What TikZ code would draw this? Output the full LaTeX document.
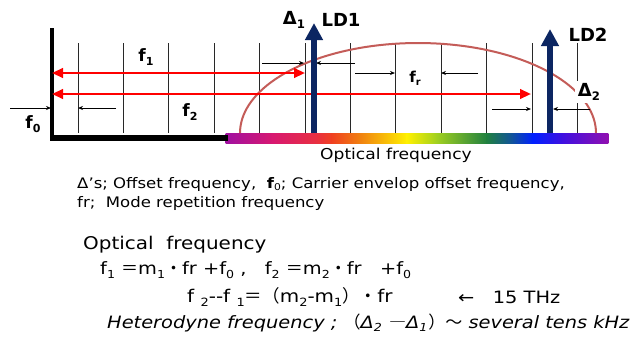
\documentclass[tikz,border=0pt]{standalone}
\usepackage{fontspec}
\usepackage{graphicx}
\setmainfont{DejaVu Sans}
\newfontfamily\wide[FakeStretch=1.14]{DejaVu Sans}
\newfontfamily\cjk{Noto Sans CJK JP}
\usetikzlibrary{arrows.meta}
\definecolor{navyc}{RGB}{12,38,98}
\definecolor{curvec}{RGB}{196,92,88}
\definecolor{gridc}{RGB}{40,40,40}
\definecolor{sA}{RGB}{160,16,160}
\definecolor{sB}{RGB}{216,24,112}
\definecolor{sC}{RGB}{232,48,64}
\definecolor{sD}{RGB}{240,64,32}
\definecolor{sE}{RGB}{240,128,16}
\definecolor{sF}{RGB}{255,240,0}
\definecolor{sG}{RGB}{160,208,32}
\definecolor{sH}{RGB}{32,128,64}
\definecolor{sI}{RGB}{16,80,160}
\definecolor{sJ}{RGB}{0,32,255}
\definecolor{sK}{RGB}{64,16,224}
\definecolor{sL}{RGB}{144,16,176}
\newcommand\lo[1]{\raisebox{-0.35ex}{\scalebox{0.65}{#1}}}
\newcommand\fs[1]{\fontsize{#1}{#1}\selectfont}
\tikzset{
  gridline/.style={draw=gridc, line width=0.9pt},
  redarrow/.style={draw=red, line width=2.4pt, {Triangle[length=11pt,width=9.5pt]}-{Triangle[length=11pt,width=9.5pt]}},
  smallarrow/.style={draw=black, line width=0.8pt, -{Stealth[length=5pt,width=4pt]}},
  bluearrow/.style={draw=navyc, line width=6pt, -{Triangle[length=17pt,width=17pt]}},
  biglabel/.style={font=\fs{18}\bfseries, inner sep=1pt},
  txt/.style={anchor=west, inner sep=0pt},
}
\begin{document}
\begin{tikzpicture}[x=1pt,y=-1pt]
\useasboundingbox[fill=white] (0,0) rectangle (630,341);
% grid
\foreach \x in {78,123.4,168.8,214.2,259.6,305,350.4,395.8,441.2,486.6,532,577.4}
  \draw[gridline] (\x,43) -- (\x,133);
% spectrum
\foreach \xa/\ca/\xb/\cb in {226/sA/273/sB,273/sB/317/sC,317/sC/332/sD,332/sD/360/sE,360/sE/407/sF,407/sF/437/sG,437/sG/487/sH,487/sH/513/sI,513/sI/533/sJ,533/sJ/563/sK,563/sK/608/sL}
  \shade[left color=\ca, right color=\cb] (\xa-0.3,133) rectangle (\xb+0.3,143);
% axes
\draw[line width=4pt] (52,28) -- (52,141);
\fill (50,135) rectangle (228,141);
% curve
\draw[curvec, line width=2pt] plot[domain=180:0, samples=80] ({418+178*cos(\x)}, {133-90*sin(\x)});
% red arrows
\coordinate (r1a) at (52,73); \coordinate (r1b) at (305,73);
\coordinate (r2a) at (52,94); \coordinate (r2b) at (531,94);
\draw[redarrow] (r1a) -- (r1b);
\draw[redarrow] (r2a) -- (r2b);
% small arrows
\draw[smallarrow] (10,108) -- (51,108);
\draw[smallarrow] (116,108) -- (78,108);
\draw[smallarrow] (262,63) -- (304,63);
\draw[smallarrow] (355,63) -- (316,63);
\draw[smallarrow] (355,73) -- (395,73);
\draw[smallarrow] (478,73) -- (441,73);
\draw[smallarrow] (492,109) -- (531,109);
\draw[smallarrow] (590,109) -- (553,109);
% blue arrows
\draw[bluearrow] (314,133) -- (314,23);
\draw[bluearrow] (550,133) -- (550,29);
% labels
\node[biglabel] (d1) at (294,20) {Δ\lo{1}};
\node[biglabel] (ld1) at (341,20) {LD1};
\node[biglabel] (ld2) at (588,35) {LD2};
\node[biglabel, fill=white, inner sep=3pt] (d2) at (589,92) {Δ\lo{2}};
\node[biglabel, font=\fs{17}\bfseries] (f1) at (146,57) {f\lo{1}};
\node[biglabel, font=\fs{17}\bfseries] (f2) at (190,112) {f\lo{2}};
\node[biglabel, font=\fs{17}\bfseries] (f0) at (33,124) {f\lo{0}};
\node[biglabel, font=\fs{15}\bfseries] (fr) at (415,78) {f\lo{r}};
\node[font=\wide\fs{15}, inner sep=0pt] (of) at (396,155) {Optical frequency};
% caption
\node[txt, font=\wide\fs{14.5}] (c1) at (77,184) {Δ’s; Offset frequency,\ \ \textbf{f}\lo{0}; Carrier envelop offset frequency,};
\node[txt, font=\wide\fs{14.5}] (c2) at (77,203) {fr;\ \ Mode repetition frequency};
% formulas
\node[txt, font=\wide\fs{17.5}] (e0) at (83,245) {Optical\ \ frequency};
\node[txt, font=\wide\fs{17}] (e1) at (100,270) {f\lo{1} {\cjk ＝}m\lo{1}{\cjk ・}fr +f\lo{0} ,\ \ \ f\lo{2} {\cjk ＝}m\lo{2}{\cjk ・}fr\ \ \ +f\lo{0}};
\node[txt, font=\wide\fs{17.5}] (e2) at (187,297) {f \lo{2}-{}-f \lo{1}{\cjk ＝（}m\lo{2}-m\lo{1}{\cjk ）・}fr};
\node[txt, font=\wide\fs{17}] (e3) at (458,297) {←\ \ \ 15 THz};
\node[txt, font=\wide\fs{17}\itshape] (e4) at (107,323) {Heterodyne frequency ; {\cjk （}Δ\lo{2}\kern1pt\ {\cjk ―}Δ\lo{1}\kern1pt{\cjk ）～} several tens kHz};
\end{tikzpicture}
\end{document}
